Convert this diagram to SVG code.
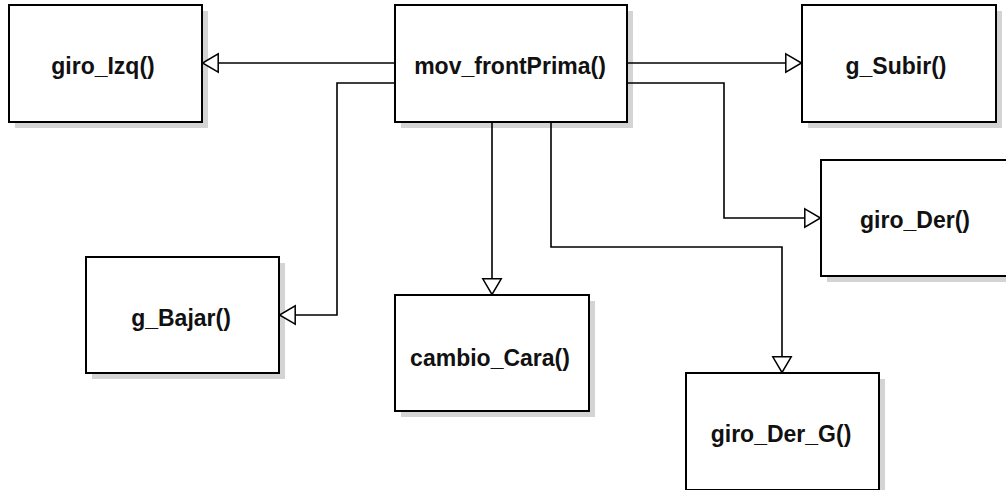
<svg xmlns="http://www.w3.org/2000/svg" width="1006" height="490" viewBox="0 0 1006 490">
<style>
.box{fill:#ffffff;stroke:#000000;stroke-width:2}
.shadow{fill:#d4d4d4;stroke:none}
.lbl{font-family:"Liberation Sans",Arial,sans-serif;font-weight:bold;font-size:23px;fill:#111111;text-anchor:middle}
.conn{fill:none;stroke:#000000;stroke-width:1.6;marker-end:url(#tri)}
</style>
<defs>
<marker id="tri" viewBox="0 0 17 20" refX="17" refY="10" markerWidth="17" markerHeight="20" markerUnits="userSpaceOnUse" orient="auto" overflow="visible">
<path d="M0.8,0.8 L16.5,10 L0.8,19.2 Z" fill="#ffffff" stroke="#000000" stroke-width="1.5"/>
</marker>
</defs>
<rect width="1006" height="490" fill="#ffffff"/>
<g id="node-giro_Izq">
<rect class="shadow" x="15" y="11" width="193" height="117"/>
<rect class="box" x="9" y="5" width="193" height="117"/>
<text class="lbl" x="103" y="74">giro_Izq()</text>
</g>
<g id="node-mov_frontPrima">
<rect class="shadow" x="401" y="11" width="232" height="117"/>
<rect class="box" x="395" y="5" width="232" height="117"/>
<text class="lbl" x="510" y="74">mov_frontPrima()</text>
</g>
<g id="node-g_Subir">
<rect class="shadow" x="808" y="11" width="194" height="117"/>
<rect class="box" x="802" y="5" width="194" height="117"/>
<text class="lbl" x="896" y="74">g_Subir()</text>
</g>
<g id="node-giro_Der">
<rect class="shadow" x="827" y="166" width="194" height="116"/>
<rect class="box" x="821" y="160" width="194" height="116"/>
<text class="lbl" x="915" y="228">giro_Der()</text>
</g>
<g id="node-g_Bajar">
<rect class="shadow" x="92" y="263" width="193" height="116"/>
<rect class="box" x="86" y="257" width="193" height="116"/>
<text class="lbl" x="181" y="326">g_Bajar()</text>
</g>
<g id="node-cambio_Cara">
<rect class="shadow" x="401" y="301" width="194" height="116"/>
<rect class="box" x="395" y="295" width="194" height="116"/>
<text class="lbl" x="490" y="366">cambio_Cara()</text>
</g>
<g id="node-giro_Der_G">
<rect class="shadow" x="692" y="379" width="193" height="117"/>
<rect class="box" x="686" y="373" width="193" height="117"/>
<text class="lbl" x="781" y="442">giro_Der_G()</text>
</g>
<g id="connectors">
<path class="conn" d="M395,63 H202"/>
<path class="conn" d="M627,63 H802"/>
<path class="conn" d="M395,83 H337 V315 H279"/>
<path class="conn" d="M627,83 H724 V218 H821"/>
<path class="conn" d="M492,122 V295"/>
<path class="conn" d="M551,122 V247 H782 V373"/>
</g>
</svg>
